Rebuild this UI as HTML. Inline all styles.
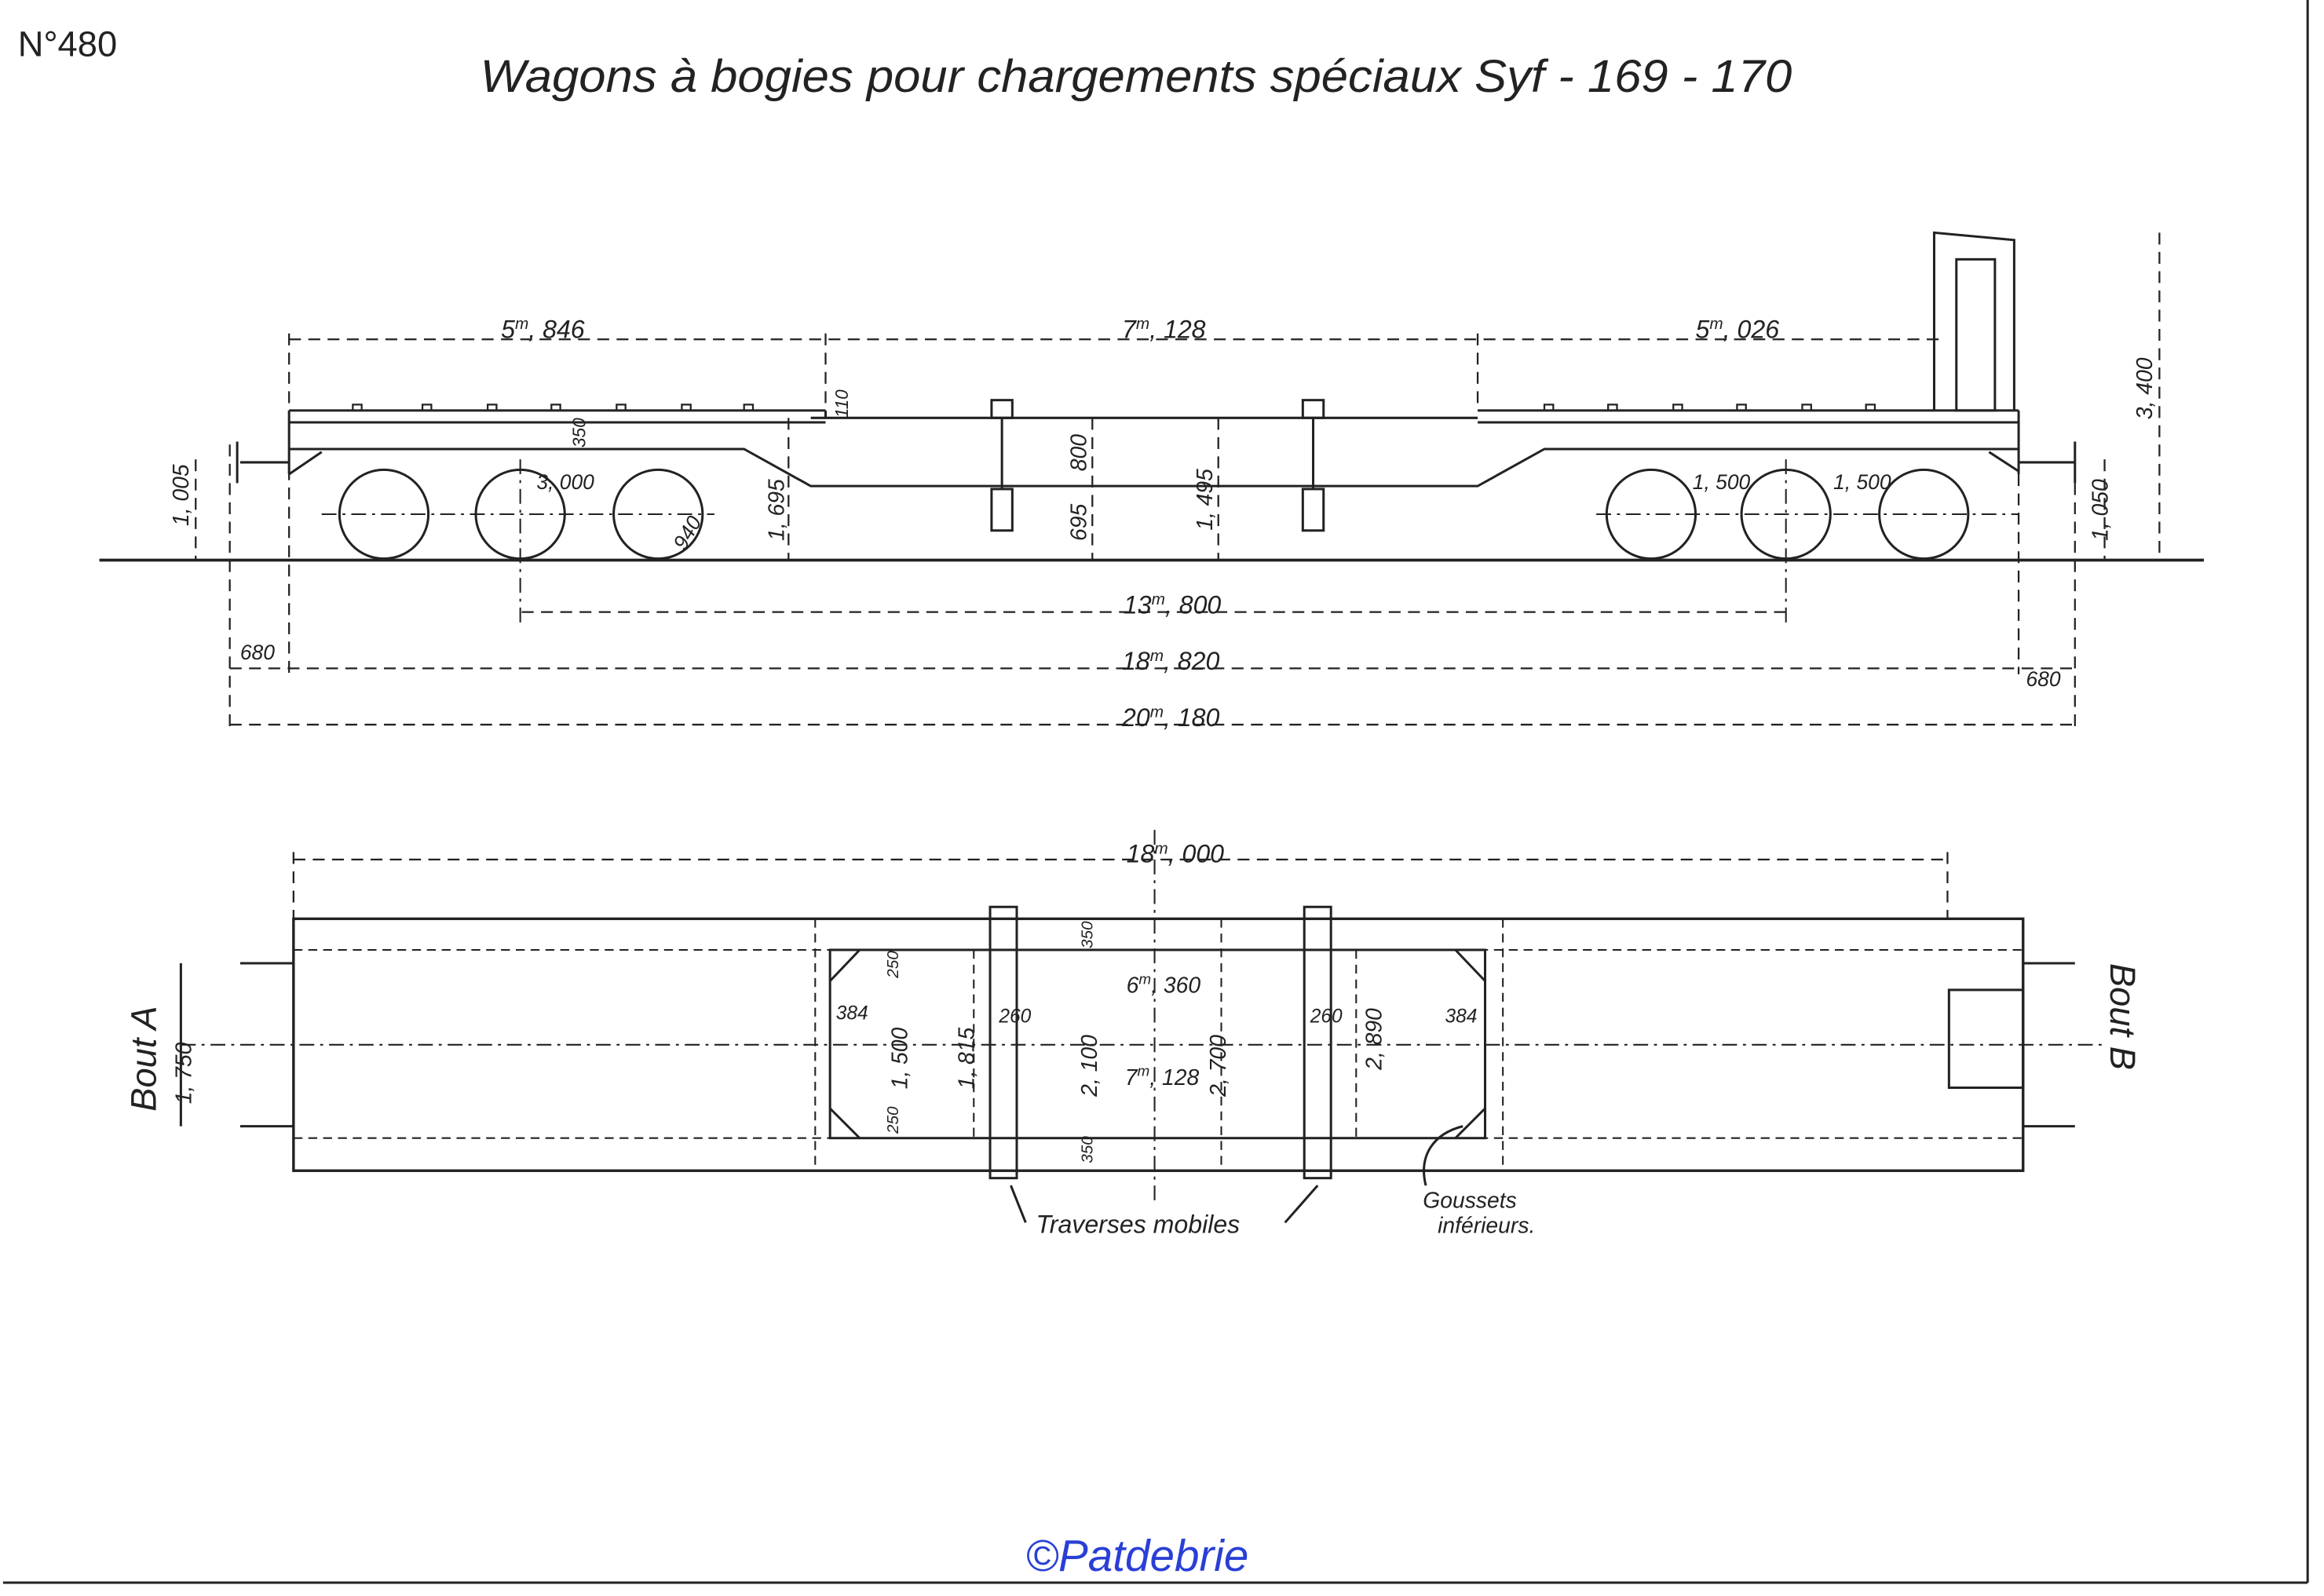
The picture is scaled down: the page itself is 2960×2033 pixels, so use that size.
<!DOCTYPE html>
<html><head><meta charset="utf-8"><style>
html,body{margin:0;padding:0;background:#fff;}
svg{display:block}
text{font-family:"Liberation Sans",sans-serif;font-style:italic;fill:#222}
</style></head><body>
<svg width="2960" height="2033" viewBox="0 0 1564 1077" xmlns="http://www.w3.org/2000/svg">
<rect width="1564" height="1077" fill="#fff"/>
<g stroke="#222" fill="none" stroke-width="1.6">
<line x1="1555" y1="0" x2="1555" y2="1068"/>
<line x1="0" y1="1068" x2="1555" y2="1068"/>
<line x1="65" y1="378" x2="1485" y2="378" stroke-width="2"/>
<polyline points="193,277 555,277"/>
<polyline points="193,285 555,285"/>
<polyline points="193,303 500,303 545,328 995,328 1040,303 1360,303"/>
<polyline points="545,282 995,282"/>
<polyline points="555,277 555,282"/>
<polyline points="995,277 1360,277"/>
<polyline points="995,285 1360,285"/>
<line x1="193" y1="277" x2="193" y2="320"/>
<line x1="1360" y1="277" x2="1360" y2="320"/>
<polyline points="193,320 215,305"/>
<polyline points="1360,318 1340,305"/>
<polyline points="1303,277 1303,157 1357,162 1357,277"/>
<rect x="1318" y="175" width="26" height="102"/>
<line x1="160" y1="312" x2="193" y2="312"/>
<line x1="158" y1="298" x2="158" y2="326"/>
<line x1="1360" y1="312" x2="1398" y2="312"/>
<line x1="1398" y1="298" x2="1398" y2="326"/>
<g stroke-width="1.2">
<path d="M236,277v-4h6v4 M283,277v-4h6v4 M327,277v-4h6v4 M370,277v-4h6v4 M414,277v-4h6v4 M458,277v-4h6v4 M500,277v-4h6v4 M1040,277v-4h6v4 M1083,277v-4h6v4 M1127,277v-4h6v4 M1170,277v-4h6v4 M1214,277v-4h6v4 M1257,277v-4h6v4"/>
</g>
<rect x="667" y="270" width="14" height="12"/><line x1="674" y1="282" x2="674" y2="330"/><rect x="667" y="330" width="14" height="28"/>
<rect x="877" y="270" width="14" height="12"/><line x1="884" y1="282" x2="884" y2="330"/><rect x="877" y="330" width="14" height="28"/>
<circle cx="257" cy="347" r="30"/><circle cx="349" cy="347" r="30"/><circle cx="442" cy="347" r="30"/>
<circle cx="1112" cy="347" r="30"/><circle cx="1203" cy="347" r="30"/><circle cx="1296" cy="347" r="30"/>
<g stroke-dasharray="10,4,2,4" stroke-width="1.1">
<line x1="215" y1="347" x2="480" y2="347"/><line x1="1075" y1="347" x2="1360" y2="347"/>
<line x1="349" y1="310" x2="349" y2="420"/><line x1="1203" y1="310" x2="1203" y2="420"/>
<line x1="777" y1="560" x2="777" y2="810"/>
<line x1="120" y1="705" x2="1420" y2="705"/>
</g>
<g stroke-dasharray="8,5" stroke-width="1.2">
<line x1="193" y1="229" x2="1308" y2="229"/>
<line x1="350" y1="413" x2="1203" y2="413"/>
<line x1="153" y1="451" x2="1398" y2="451"/>
<line x1="153" y1="489" x2="1398" y2="489"/>
<line x1="196" y1="580" x2="1312" y2="580"/>
<line x1="193" y1="225" x2="193" y2="455"/>
<line x1="555" y1="225" x2="555" y2="275"/>
<line x1="995" y1="225" x2="995" y2="275"/>
<line x1="153" y1="300" x2="153" y2="495"/>
<line x1="1398" y1="300" x2="1398" y2="495"/>
<line x1="1360" y1="320" x2="1360" y2="455"/>
<line x1="1455" y1="157" x2="1455" y2="378"/>
<line x1="130" y1="310" x2="130" y2="378"/>
<line x1="1418" y1="310" x2="1418" y2="378"/>
<line x1="735" y1="282" x2="735" y2="378"/>
<line x1="820" y1="282" x2="820" y2="378"/>
<line x1="530" y1="282" x2="530" y2="378"/>
<line x1="196" y1="575" x2="196" y2="620"/>
<line x1="1312" y1="575" x2="1312" y2="620"/>
</g>
<rect x="196" y="620" width="1167" height="170" stroke-width="1.8"/>
<rect x="558" y="641" width="442" height="127"/>
<g stroke-dasharray="6,4" stroke-width="1.1">
<line x1="196" y1="641" x2="1363" y2="641"/><line x1="196" y1="768" x2="1363" y2="768"/>
<line x1="548" y1="620" x2="548" y2="790"/><line x1="1012" y1="620" x2="1012" y2="790"/>
<line x1="822" y1="620" x2="822" y2="790"/>
<line x1="655" y1="641" x2="655" y2="768"/>
<line x1="913" y1="641" x2="913" y2="768"/>
</g>
<rect x="666" y="612" width="18" height="183"/>
<rect x="878" y="612" width="18" height="183"/>
<path d="M558,662 L578,641 M558,748 L578,768 M980,641 L1000,662 M980,768 L1000,748"/>
<line x1="160" y1="650" x2="196" y2="650"/><line x1="160" y1="760" x2="196" y2="760"/>
<line x1="1363" y1="650" x2="1398" y2="650"/><line x1="1363" y1="760" x2="1398" y2="760"/>
<rect x="1313" y="668" width="50" height="66"/>
<line x1="120" y1="650" x2="120" y2="760"/>
<path d="M690,825 L680,800 M865,825 L887,800 M960,800 C955,780 965,765 985,760"/>
</g>
<g font-size="17">
<text x="336" y="228">5<tspan dy="-6" font-size="11">m</tspan><tspan dy="6">, 846</tspan></text>
<text x="755" y="228">7<tspan dy="-6" font-size="11">m</tspan><tspan dy="6">, 128</tspan></text>
<text x="1142" y="228">5<tspan dy="-6" font-size="11">m</tspan><tspan dy="6">, 026</tspan></text>
<text x="756" y="414">13<tspan dy="-6" font-size="11">m</tspan><tspan dy="6">, 800</tspan></text>
<text x="755" y="452">18<tspan dy="-6" font-size="11">m</tspan><tspan dy="6">, 820</tspan></text>
<text x="755" y="490">20<tspan dy="-6" font-size="11">m</tspan><tspan dy="6">, 180</tspan></text>
<text x="758" y="582">18<tspan dy="-6" font-size="11">m</tspan><tspan dy="6">, 000</tspan></text>
<text x="758" y="670" font-size="15">6<tspan dy="-6" font-size="10">m</tspan><tspan dy="6">, 360</tspan></text>
<text x="757" y="732" font-size="15">7<tspan dy="-6" font-size="10">m</tspan><tspan dy="6">, 128</tspan></text>
<text x="160" y="445" font-size="14">680</text>
<text x="1365" y="463" font-size="14">680</text>
<text x="360" y="330" font-size="14">3, 000</text>
<text x="1140" y="330" font-size="14">1, 500</text>
<text x="1235" y="330" font-size="14">1, 500</text>
<text x="562" y="688" font-size="13">384</text>
<text x="973" y="690" font-size="13">384</text>
<text x="672" y="690" font-size="13">260</text>
<text x="882" y="690" font-size="13">260</text>
</g>
<g font-size="15">
<text transform="translate(125,355) rotate(-90)">1, 005</text>
<text transform="translate(1420,365) rotate(-90)">1, 050</text>
<text transform="translate(1450,283) rotate(-90)">3, 400</text>
<text transform="translate(527,365) rotate(-90)">1, 695</text>
<text transform="translate(731,365) rotate(-90)">695</text>
<text transform="translate(731,318) rotate(-90)">800</text>
<text transform="translate(816,358) rotate(-90)">1, 495</text>
<text transform="translate(393,302) rotate(-90)" font-size="12">350</text>
<text transform="translate(570,282) rotate(-90)" font-size="12">110</text>
<text transform="translate(460,372) rotate(-60)" font-size="14">940</text>
<text transform="translate(127,745) rotate(-90)">1, 750</text>
<text transform="translate(610,735) rotate(-90)">1, 500</text>
<text transform="translate(655,735) rotate(-90)">1, 815</text>
<text transform="translate(738,740) rotate(-90)">2, 100</text>
<text transform="translate(825,740) rotate(-90)">2, 700</text>
<text transform="translate(930,722) rotate(-90)">2, 890</text>
<text transform="translate(604,660) rotate(-90)" font-size="11">250</text>
<text transform="translate(604,765) rotate(-90)" font-size="11">250</text>
<text transform="translate(735,640) rotate(-90)" font-size="11">350</text>
<text transform="translate(735,785) rotate(-90)" font-size="11">350</text>
</g>
<text transform="translate(103,750) rotate(-90)" font-size="24">Bout A</text>
<text transform="translate(1422,650) rotate(90)" font-size="24">Bout B</text>
<text x="697" y="832" font-size="17">Traverses mobiles</text>
<text x="958" y="815" font-size="15">Goussets</text>
<text x="968" y="832" font-size="15">inférieurs.</text>
<text x="10" y="38" font-size="24" style="font-style:normal">N°480</text>
<text x="322" y="62" font-size="31" textLength="885" lengthAdjust="spacingAndGlyphs">Wagons à bogies pour chargements spéciaux Syf - 169 - 170</text>
<text x="690" y="1060" font-size="30" style="fill:#2a3fd6">©Patdebrie</text>
</svg>
</body></html>
